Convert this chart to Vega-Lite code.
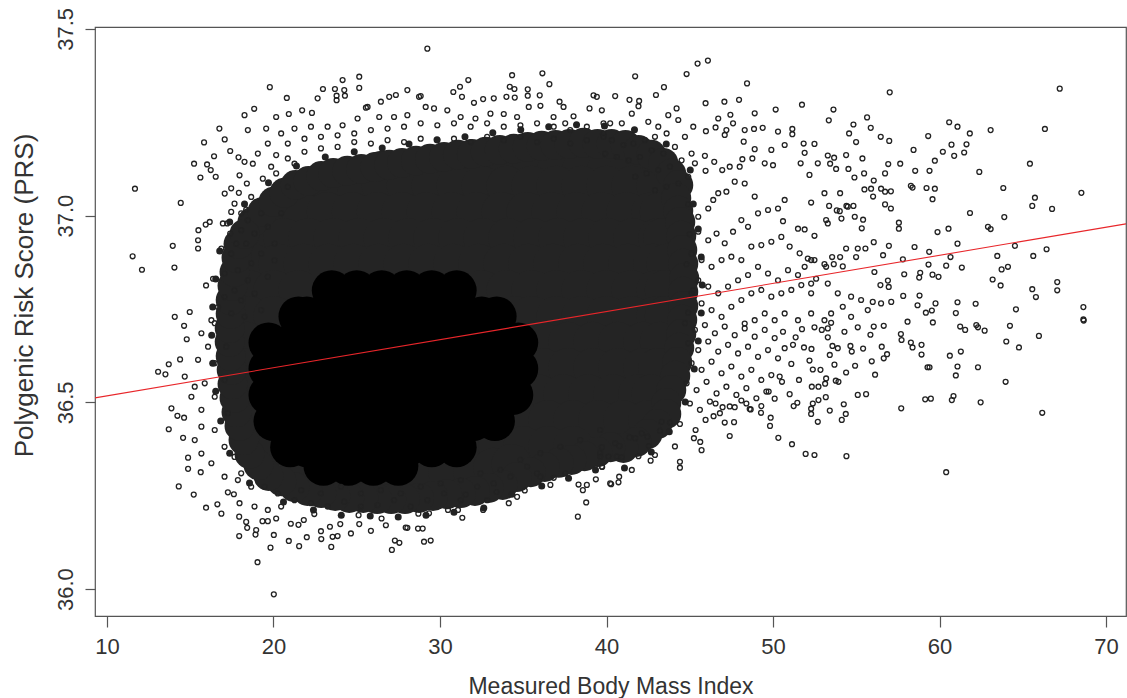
{
"$schema": "https://vega.github.io/schema/vega-lite/v6.json",
"width": 1031, "height": 589,
"autosize": {"type": "none"},
"padding": {"left": 95, "top": 27, "right": 1, "bottom": 82},
"background": "white",
"config": {"view": {"stroke": "#555", "strokeWidth": 1.2}},
"datasets": {
"core": [
{"bmi":23.5,"prs":36.80},{"bmi":25,"prs":36.80},{"bmi":26.5,"prs":36.80},{"bmi":28,"prs":36.80},{"bmi":29.5,"prs":36.80},{"bmi":31,"prs":36.80},
{"bmi":21.5,"prs":36.73},{"bmi":22,"prs":36.73},{"bmi":23.5,"prs":36.73},{"bmi":25,"prs":36.73},{"bmi":26.5,"prs":36.73},{"bmi":28,"prs":36.73},{"bmi":29.5,"prs":36.73},{"bmi":31,"prs":36.73},{"bmi":32.5,"prs":36.73},{"bmi":33.4,"prs":36.73},
{"bmi":19.7,"prs":36.66},{"bmi":21.2,"prs":36.66},{"bmi":22.7,"prs":36.66},{"bmi":24.2,"prs":36.66},{"bmi":25.7,"prs":36.66},{"bmi":27.2,"prs":36.66},{"bmi":28.7,"prs":36.66},{"bmi":30.2,"prs":36.66},{"bmi":31.7,"prs":36.66},{"bmi":33.2,"prs":36.66},{"bmi":34.7,"prs":36.66},
{"bmi":19.7,"prs":36.59},{"bmi":21.2,"prs":36.59},{"bmi":22.7,"prs":36.59},{"bmi":24.2,"prs":36.59},{"bmi":25.7,"prs":36.59},{"bmi":27.2,"prs":36.59},{"bmi":28.7,"prs":36.59},{"bmi":30.2,"prs":36.59},{"bmi":31.7,"prs":36.59},{"bmi":33.2,"prs":36.59},{"bmi":34.7,"prs":36.59},
{"bmi":19.7,"prs":36.52},{"bmi":21.2,"prs":36.52},{"bmi":22.7,"prs":36.52},{"bmi":24.2,"prs":36.52},{"bmi":25.7,"prs":36.52},{"bmi":27.2,"prs":36.52},{"bmi":28.7,"prs":36.52},{"bmi":30.2,"prs":36.52},{"bmi":31.7,"prs":36.52},{"bmi":33.2,"prs":36.52},{"bmi":34.4,"prs":36.52},
{"bmi":20,"prs":36.45},{"bmi":21.5,"prs":36.45},{"bmi":23,"prs":36.45},{"bmi":24.5,"prs":36.45},{"bmi":26,"prs":36.45},{"bmi":27.5,"prs":36.45},{"bmi":29,"prs":36.45},{"bmi":30.5,"prs":36.45},{"bmi":32,"prs":36.45},{"bmi":33.3,"prs":36.45},
{"bmi":21,"prs":36.38},{"bmi":22,"prs":36.38},{"bmi":23.5,"prs":36.38},{"bmi":25,"prs":36.38},{"bmi":26.5,"prs":36.38},{"bmi":28,"prs":36.38},{"bmi":29.5,"prs":36.38},{"bmi":31,"prs":36.38},
{"bmi":23,"prs":36.33},{"bmi":24.5,"prs":36.33},{"bmi":26,"prs":36.33},{"bmi":27.5,"prs":36.33}
],
"dense": [
{"bmi":26.5,"prs":37.12},{"bmi":28,"prs":37.12},{"bmi":29.5,"prs":37.12},{"bmi":31,"prs":37.12},{"bmi":32.5,"prs":37.12},{"bmi":34,"prs":37.12},{"bmi":35.5,"prs":37.12},{"bmi":37,"prs":37.12},{"bmi":38.5,"prs":37.12},{"bmi":40,"prs":37.12},{"bmi":41.3,"prs":37.12},
{"bmi":22,"prs":37.06},
{"bmi":23.5,"prs":37.08},{"bmi":25,"prs":37.08},{"bmi":26.5,"prs":37.08},{"bmi":28,"prs":37.08},{"bmi":29.5,"prs":37.08},{"bmi":31,"prs":37.08},{"bmi":32.5,"prs":37.08},{"bmi":34,"prs":37.08},{"bmi":35.5,"prs":37.08},{"bmi":37,"prs":37.08},{"bmi":38.5,"prs":37.08},{"bmi":40,"prs":37.08},{"bmi":41.5,"prs":37.08},{"bmi":43,"prs":37.08},
{"bmi":20.2,"prs":37.01},{"bmi":21.7,"prs":37.01},{"bmi":23.2,"prs":37.01},{"bmi":24.7,"prs":37.01},{"bmi":26.2,"prs":37.01},{"bmi":27.7,"prs":37.01},{"bmi":29.2,"prs":37.01},{"bmi":30.7,"prs":37.01},{"bmi":32.2,"prs":37.01},{"bmi":33.7,"prs":37.01},{"bmi":35.2,"prs":37.01},{"bmi":36.7,"prs":37.01},{"bmi":38.2,"prs":37.01},{"bmi":39.7,"prs":37.01},{"bmi":41.2,"prs":37.01},{"bmi":42.7,"prs":37.01},{"bmi":43.2,"prs":37.01},
{"bmi":19.1,"prs":36.94},{"bmi":20.6,"prs":36.94},{"bmi":22.1,"prs":36.94},{"bmi":23.6,"prs":36.94},{"bmi":25.1,"prs":36.94},{"bmi":26.6,"prs":36.94},{"bmi":28.1,"prs":36.94},{"bmi":29.6,"prs":36.94},{"bmi":31.1,"prs":36.94},{"bmi":32.6,"prs":36.94},{"bmi":34.1,"prs":36.94},{"bmi":35.6,"prs":36.94},{"bmi":37.1,"prs":36.94},{"bmi":38.6,"prs":36.94},{"bmi":40.1,"prs":36.94},{"bmi":41.6,"prs":36.94},{"bmi":43.1,"prs":36.94},{"bmi":43.4,"prs":36.94},
{"bmi":18.8,"prs":36.871},{"bmi":20.3,"prs":36.871},{"bmi":21.8,"prs":36.871},{"bmi":23.3,"prs":36.871},{"bmi":24.8,"prs":36.871},{"bmi":26.3,"prs":36.871},{"bmi":27.8,"prs":36.871},{"bmi":29.3,"prs":36.871},{"bmi":30.8,"prs":36.871},{"bmi":32.3,"prs":36.871},{"bmi":33.8,"prs":36.871},{"bmi":35.3,"prs":36.871},{"bmi":36.8,"prs":36.871},{"bmi":38.3,"prs":36.871},{"bmi":39.8,"prs":36.871},{"bmi":41.3,"prs":36.871},{"bmi":42.8,"prs":36.871},{"bmi":43.6,"prs":36.871},
{"bmi":18.5,"prs":36.801},{"bmi":20,"prs":36.801},{"bmi":21.5,"prs":36.801},{"bmi":32.5,"prs":36.801},{"bmi":34,"prs":36.801},{"bmi":35.5,"prs":36.801},{"bmi":37,"prs":36.801},{"bmi":38.5,"prs":36.801},{"bmi":40,"prs":36.801},{"bmi":41.5,"prs":36.801},{"bmi":43,"prs":36.801},{"bmi":43.5,"prs":36.801},
{"bmi":18.5,"prs":36.731},{"bmi":20,"prs":36.731},{"bmi":34.5,"prs":36.731},{"bmi":35.5,"prs":36.731},{"bmi":37,"prs":36.731},{"bmi":38.5,"prs":36.731},{"bmi":40,"prs":36.731},{"bmi":41.5,"prs":36.731},{"bmi":43,"prs":36.731},{"bmi":43.5,"prs":36.731},
{"bmi":18.4,"prs":36.662},{"bmi":36.2,"prs":36.662},{"bmi":37.7,"prs":36.662},{"bmi":39.2,"prs":36.662},{"bmi":40.7,"prs":36.662},{"bmi":42.2,"prs":36.662},{"bmi":43.2,"prs":36.662},
{"bmi":18.5,"prs":36.592},{"bmi":36.2,"prs":36.592},{"bmi":37.7,"prs":36.592},{"bmi":39.2,"prs":36.592},{"bmi":40.7,"prs":36.592},{"bmi":42.2,"prs":36.592},{"bmi":43.1,"prs":36.592},
{"bmi":18.6,"prs":36.522},{"bmi":35.9,"prs":36.522},{"bmi":37.4,"prs":36.522},{"bmi":38.9,"prs":36.522},{"bmi":40.4,"prs":36.522},{"bmi":41.9,"prs":36.522},{"bmi":42.7,"prs":36.522},
{"bmi":18.9,"prs":36.453},{"bmi":34.8,"prs":36.453},{"bmi":36.5,"prs":36.453},{"bmi":38,"prs":36.453},{"bmi":39.5,"prs":36.453},{"bmi":41,"prs":36.453},{"bmi":42.5,"prs":36.453},
{"bmi":19.3,"prs":36.383},{"bmi":20.3,"prs":36.383},{"bmi":32.3,"prs":36.383},{"bmi":33.5,"prs":36.383},{"bmi":35,"prs":36.383},{"bmi":36.5,"prs":36.383},{"bmi":38,"prs":36.383},
{"bmi":21.5,"prs":36.313},{"bmi":23,"prs":36.313},{"bmi":24.5,"prs":36.313},{"bmi":26,"prs":36.313},{"bmi":27.5,"prs":36.313},{"bmi":29,"prs":36.313},{"bmi":30.5,"prs":36.313},{"bmi":32,"prs":36.313},{"bmi":33.2,"prs":36.325},{"bmi":34.3,"prs":36.335}
],
"edge": [
{"bmi":18.74,"prs":36.983},{"bmi":19.34,"prs":37.010},{"bmi":20.00,"prs":37.037},{"bmi":20.66,"prs":37.061},{"bmi":21.32,"prs":37.082},{"bmi":22.10,"prs":37.093},{"bmi":22.87,"prs":37.106},{"bmi":23.59,"prs":37.114},{"bmi":24.43,"prs":37.120},{"bmi":25.27,"prs":37.125},{"bmi":26.11,"prs":37.130},{"bmi":26.95,"prs":37.136},{"bmi":27.72,"prs":37.141},{"bmi":28.56,"prs":37.147},{"bmi":29.40,"prs":37.152},{"bmi":30.24,"prs":37.157},{"bmi":31.08,"prs":37.163},{"bmi":31.92,"prs":37.165},{"bmi":32.75,"prs":37.171},{"bmi":33.59,"prs":37.176},{"bmi":34.43,"prs":37.179},{"bmi":35.27,"prs":37.184},{"bmi":36.11,"prs":37.187},{"bmi":36.95,"prs":37.189},{"bmi":37.78,"prs":37.192},{"bmi":38.62,"prs":37.195},{"bmi":39.46,"prs":37.192},{"bmi":40.30,"prs":37.192},{"bmi":41.14,"prs":37.189},{"bmi":41.92,"prs":37.176},{"bmi":42.69,"prs":37.163},{"bmi":43.41,"prs":37.141},{"bmi":43.89,"prs":37.112},{"bmi":44.31,"prs":37.082},
{"bmi":44.19,"prs":37.047},{"bmi":44.31,"prs":37.013},{"bmi":44.43,"prs":36.983},{"bmi":44.49,"prs":36.946},{"bmi":44.55,"prs":36.908},{"bmi":44.61,"prs":36.871},{"bmi":44.67,"prs":36.833},{"bmi":44.61,"prs":36.796},{"bmi":44.61,"prs":36.758},{"bmi":44.55,"prs":36.721},{"bmi":44.49,"prs":36.683},{"bmi":44.37,"prs":36.646},{"bmi":44.25,"prs":36.608},{"bmi":44.13,"prs":36.571},{"bmi":43.89,"prs":36.533},{"bmi":43.59,"prs":36.498},
{"bmi":43.59,"prs":36.469},{"bmi":43.05,"prs":36.442},{"bmi":42.46,"prs":36.415},{"bmi":41.80,"prs":36.394},{"bmi":41.02,"prs":36.378},{"bmi":40.24,"prs":36.380},{"bmi":39.46,"prs":36.367},{"bmi":38.68,"prs":36.356},{"bmi":37.90,"prs":36.346},{"bmi":37.13,"prs":36.338},{"bmi":36.29,"prs":36.327},{"bmi":35.45,"prs":36.313},{"bmi":34.61,"prs":36.300},{"bmi":33.77,"prs":36.279},{"bmi":32.93,"prs":36.271},{"bmi":32.10,"prs":36.263},{"bmi":31.26,"prs":36.257},{"bmi":30.42,"prs":36.254},{"bmi":29.58,"prs":36.249},{"bmi":28.74,"prs":36.244},{"bmi":27.90,"prs":36.241},{"bmi":27.07,"prs":36.241},{"bmi":26.23,"prs":36.241},{"bmi":25.39,"prs":36.244},{"bmi":24.55,"prs":36.244},{"bmi":23.71,"prs":36.249},{"bmi":22.87,"prs":36.257},{"bmi":22.04,"prs":36.263},{"bmi":21.26,"prs":36.273},{"bmi":20.48,"prs":36.289},{"bmi":19.70,"prs":36.303},{"bmi":19.10,"prs":36.332},{"bmi":18.56,"prs":36.362},
{"bmi":18.20,"prs":36.399},{"bmi":17.96,"prs":36.437},{"bmi":17.78,"prs":36.474},{"bmi":17.66,"prs":36.512},{"bmi":17.54,"prs":36.549},{"bmi":17.49,"prs":36.587},{"bmi":17.43,"prs":36.624},{"bmi":17.37,"prs":36.662},{"bmi":17.37,"prs":36.699},{"bmi":17.43,"prs":36.737},{"bmi":17.43,"prs":36.774},{"bmi":17.54,"prs":36.812},{"bmi":17.66,"prs":36.849},{"bmi":17.78,"prs":36.887},{"bmi":17.90,"prs":36.924},{"bmi":18.26,"prs":36.951}
],
"fuzz": [
{"bmi":18.26,"prs":37.031},{"bmi":19.70,"prs":37.088},{"bmi":21.38,"prs":37.133},{"bmi":23.11,"prs":37.157},{"bmi":24.85,"prs":37.171},{"bmi":26.53,"prs":37.181},{"bmi":28.14,"prs":37.192},{"bmi":29.82,"prs":37.203},{"bmi":31.50,"prs":37.211},{"bmi":33.17,"prs":37.222},{"bmi":34.85,"prs":37.230},{"bmi":36.53,"prs":37.238},{"bmi":38.20,"prs":37.243},{"bmi":39.88,"prs":37.240},{"bmi":41.68,"prs":37.230},{"bmi":43.59,"prs":37.192},{"bmi":45.03,"prs":37.122},
{"bmi":45.21,"prs":37.031},{"bmi":45.51,"prs":36.964},{"bmi":45.69,"prs":36.889},{"bmi":45.75,"prs":36.814},{"bmi":45.69,"prs":36.739},{"bmi":45.51,"prs":36.664},{"bmi":45.27,"prs":36.589},{"bmi":44.73,"prs":36.501},{"bmi":43.77,"prs":36.421},{"bmi":42.69,"prs":36.367},{"bmi":41.08,"prs":36.324},
{"bmi":39.34,"prs":36.319},{"bmi":37.72,"prs":36.297},{"bmi":36.11,"prs":36.276},{"bmi":34.31,"prs":36.254},{"bmi":32.63,"prs":36.217},{"bmi":30.84,"prs":36.206},{"bmi":29.16,"prs":36.198},{"bmi":27.49,"prs":36.193},{"bmi":25.81,"prs":36.196},{"bmi":24.07,"prs":36.198},{"bmi":22.40,"prs":36.212},{"bmi":20.60,"prs":36.233},{"bmi":18.56,"prs":36.284},
{"bmi":17.37,"prs":36.364},{"bmi":16.83,"prs":36.450},{"bmi":16.53,"prs":36.530},{"bmi":16.35,"prs":36.605},{"bmi":16.29,"prs":36.680},{"bmi":16.35,"prs":36.755},{"bmi":16.53,"prs":36.830},{"bmi":16.77,"prs":36.905},{"bmi":17.37,"prs":36.983}
],
"pts": [
{"bmi":57.01,"prs":37.330},{"bmi":67.22,"prs":37.340},{"bmi":66.33,"prs":37.232},{"bmi":63.07,"prs":37.229},{"bmi":60.58,"prs":37.250},{"bmi":61.08,"prs":37.238},{"bmi":61.82,"prs":37.220},{"bmi":59.32,"prs":37.213},{"bmi":61.62,"prs":37.191},{"bmi":60.72,"prs":37.190},{"bmi":61.48,"prs":37.169},{"bmi":60.88,"prs":37.160},{"bmi":60.20,"prs":37.171},{"bmi":59.72,"prs":37.147},{"bmi":58.44,"prs":37.176},{"bmi":62.39,"prs":37.117},{"bmi":65.43,"prs":37.139},{"bmi":63.83,"prs":37.074},{"bmi":65.73,"prs":37.048},{"bmi":65.57,"prs":37.026},{"bmi":66.76,"prs":37.018},{"bmi":68.52,"prs":37.061},{"bmi":61.83,"prs":37.007},{"bmi":63.89,"prs":36.996},{"bmi":62.91,"prs":36.970},{"bmi":63.07,"prs":36.964},{"bmi":60.54,"prs":36.965},{"bmi":59.88,"prs":36.956},{"bmi":61.08,"prs":36.925},{"bmi":64.53,"prs":36.919},{"bmi":66.43,"prs":36.910},{"bmi":65.63,"prs":36.892},{"bmi":63.47,"prs":36.892},{"bmi":60.66,"prs":36.889},{"bmi":59.38,"prs":36.903},{"bmi":59.34,"prs":36.869},{"bmi":58.50,"prs":36.916},{"bmi":60.40,"prs":36.866},{"bmi":61.34,"prs":36.861},{"bmi":63.19,"prs":36.829},{"bmi":63.73,"prs":36.856},{"bmi":64.11,"prs":36.863},{"bmi":63.67,"prs":36.813},{"bmi":65.57,"prs":36.803},{"bmi":65.79,"prs":36.782},{"bmi":67.07,"prs":36.822},{"bmi":67.07,"prs":36.800},{"bmi":68.64,"prs":36.755},{"bmi":68.64,"prs":36.722},{"bmi":64.59,"prs":36.749},{"bmi":62.17,"prs":36.764},{"bmi":61.08,"prs":36.768},{"bmi":60.98,"prs":36.739},{"bmi":59.76,"prs":36.765},{"bmi":59.54,"prs":36.746},{"bmi":59.18,"prs":36.740},{"bmi":58.68,"prs":36.760},{"bmi":58.80,"prs":36.786},{"bmi":59.58,"prs":36.842},{"bmi":59.94,"prs":36.836},{"bmi":58.84,"prs":36.847},{"bmi":58.78,"prs":36.834},{"bmi":57.88,"prs":36.843},{"bmi":57.82,"prs":36.785},{"bmi":57.10,"prs":36.769},{"bmi":56.95,"prs":36.809},{"bmi":56.45,"prs":36.814},{"bmi":56.49,"prs":36.765},{"bmi":55.99,"prs":36.769},{"bmi":56.90,"prs":36.826},{"bmi":56.96,"prs":36.919},{"bmi":56.61,"prs":36.894},{"bmi":57.80,"prs":36.883},{"bmi":56.05,"prs":36.929},{"bmi":56.09,"prs":36.849},{"bmi":55.55,"prs":36.912},{"bmi":55.09,"prs":36.912},{"bmi":54.99,"prs":36.889},{"bmi":54.39,"prs":36.912},{"bmi":54.19,"prs":36.864},{"bmi":53.55,"prs":36.889},{"bmi":53.65,"prs":36.870},{"bmi":54.03,"prs":36.889},{"bmi":53.09,"prs":36.870},{"bmi":53.19,"prs":36.863},{"bmi":52.49,"prs":36.881},{"bmi":52.29,"prs":36.881},{"bmi":52.09,"prs":36.885},{"bmi":56.98,"prs":37.200},{"bmi":57.08,"prs":37.065},{"bmi":56.73,"prs":37.064},{"bmi":57.08,"prs":37.019},{"bmi":56.73,"prs":37.030},{"bmi":57.56,"prs":36.981},{"bmi":57.56,"prs":36.965},{"bmi":57.64,"prs":37.139},{"bmi":56.92,"prs":37.138},{"bmi":56.73,"prs":37.113},{"bmi":58.54,"prs":37.120},{"bmi":59.40,"prs":37.120},{"bmi":58.28,"prs":37.080},{"bmi":58.38,"prs":37.075},{"bmi":59.22,"prs":37.074},{"bmi":59.72,"prs":37.072},{"bmi":59.58,"prs":37.044},{"bmi":56.05,"prs":37.094},{"bmi":56.49,"prs":37.072},{"bmi":55.89,"prs":37.072},{"bmi":56.01,"prs":37.051},{"bmi":55.49,"prs":37.070},{"bmi":55.37,"prs":37.153},{"bmi":55.47,"prs":37.113},{"bmi":54.89,"prs":37.102},{"bmi":54.53,"prs":37.125},{"bmi":54.39,"prs":37.162},{"bmi":53.79,"prs":37.125},{"bmi":53.43,"prs":37.139},{"bmi":53.29,"prs":37.161},{"bmi":53.67,"prs":37.155},{"bmi":53.37,"prs":37.026},{"bmi":53.83,"prs":37.014},{"bmi":54.01,"prs":37.012},{"bmi":54.41,"prs":37.026},{"bmi":54.83,"prs":37.026},{"bmi":54.91,"prs":36.997},{"bmi":54.11,"prs":36.992},{"bmi":55.33,"prs":36.966},{"bmi":55.41,"prs":36.989},{"bmi":54.83,"prs":37.244},{"bmi":54.57,"prs":37.220},{"bmi":54.99,"prs":37.197},{"bmi":55.65,"prs":37.263},{"bmi":55.87,"prs":37.235},{"bmi":56.47,"prs":37.211},{"bmi":53.63,"prs":37.284},{"bmi":53.35,"prs":37.255},{"bmi":51.74,"prs":37.297},{"bmi":50.16,"prs":37.284},{"bmi":48.90,"prs":37.274},{"bmi":48.44,"prs":37.354},{"bmi":47.96,"prs":37.310},{"bmi":47.08,"prs":37.305},{"bmi":45.95,"prs":37.301},{"bmi":45.47,"prs":37.407},{"bmi":46.09,"prs":37.415},{"bmi":44.81,"prs":37.379},{"bmi":43.45,"prs":37.344},{"bmi":42.97,"prs":37.323},{"bmi":41.72,"prs":37.373},{"bmi":40.52,"prs":37.320},{"bmi":41.38,"prs":37.310},{"bmi":41.96,"prs":37.307},{"bmi":41.92,"prs":37.293},
{"bmi":45.97,"prs":37.226},{"bmi":46.71,"prs":37.260},{"bmi":47.44,"prs":37.270},{"bmi":47.60,"prs":37.247},{"bmi":47.20,"prs":37.229},{"bmi":47.10,"prs":37.216},{"bmi":46.55,"prs":37.236},{"bmi":48.30,"prs":37.229},{"bmi":48.86,"prs":37.232},{"bmi":49.38,"prs":37.235},{"bmi":50.30,"prs":37.225},{"bmi":51.16,"prs":37.232},{"bmi":51.16,"prs":37.218},{"bmi":50.70,"prs":37.189},{"bmi":49.90,"prs":37.176},{"bmi":49.50,"prs":37.140},{"bmi":50.00,"prs":37.135},{"bmi":48.90,"prs":37.178},{"bmi":48.24,"prs":37.198},{"bmi":48.16,"prs":37.151},{"bmi":48.76,"prs":37.153},{"bmi":48.00,"prs":37.131},{"bmi":47.40,"prs":37.131},{"bmi":46.95,"prs":37.122},{"bmi":46.47,"prs":37.144},{"bmi":45.95,"prs":37.120},{"bmi":45.91,"prs":37.160},{"bmi":45.31,"prs":37.140},{"bmi":51.66,"prs":37.140},{"bmi":51.90,"prs":37.168},{"bmi":52.49,"prs":37.192},{"bmi":51.84,"prs":37.193},{"bmi":52.19,"prs":37.109},{"bmi":52.69,"prs":37.140},{"bmi":52.29,"prs":37.035},{"bmi":53.09,"prs":37.060},{"bmi":54.03,"prs":37.060},{"bmi":54.49,"prs":37.024},{"bmi":53.29,"prs":36.979},{"bmi":51.90,"prs":36.963},{"bmi":51.50,"prs":36.965},{"bmi":52.49,"prs":36.946},{"bmi":53.19,"prs":36.988},{"bmi":50.30,"prs":37.019},{"bmi":50.70,"prs":37.042},{"bmi":50.60,"prs":36.985},{"bmi":49.70,"prs":37.015},{"bmi":49.10,"prs":37.006},{"bmi":48.90,"prs":37.051},{"bmi":48.30,"prs":37.086},{"bmi":47.70,"prs":37.091},{"bmi":47.20,"prs":37.064},{"bmi":46.71,"prs":37.060},{"bmi":46.41,"prs":37.042},{"bmi":46.11,"prs":37.019},{"bmi":45.51,"prs":36.997},{"bmi":48.50,"prs":36.970},{"bmi":48.10,"prs":36.988},{"bmi":47.60,"prs":36.957},{"bmi":47.10,"prs":36.926},{"bmi":46.61,"prs":36.952},{"bmi":46.11,"prs":36.934},{"bmi":45.51,"prs":36.957},{"bmi":45.11,"prs":36.898},{"bmi":45.71,"prs":36.881},{"bmi":46.31,"prs":36.863},{"bmi":46.91,"prs":36.881},{"bmi":47.50,"prs":36.890},{"bmi":48.10,"prs":36.881},{"bmi":48.70,"prs":36.917},{"bmi":49.30,"prs":36.921},{"bmi":49.90,"prs":36.930},{"bmi":50.50,"prs":36.943},{"bmi":51.00,"prs":36.917},{"bmi":51.60,"prs":36.899},{"bmi":51.90,"prs":36.863},{"bmi":51.50,"prs":36.841},{"bmi":50.90,"prs":36.854},{"bmi":50.30,"prs":36.827},{"bmi":49.70,"prs":36.845},{"bmi":49.10,"prs":36.863},{"bmi":48.50,"prs":36.841},{"bmi":47.90,"prs":36.827},{"bmi":47.30,"prs":36.810},{"bmi":46.71,"prs":36.792},{"bmi":46.11,"prs":36.810},{"bmi":45.51,"prs":36.827},{"bmi":45.11,"prs":36.792},{"bmi":45.71,"prs":36.765},{"bmi":46.31,"prs":36.747},{"bmi":46.91,"prs":36.729},{"bmi":47.50,"prs":36.756},{"bmi":48.10,"prs":36.774},{"bmi":48.70,"prs":36.792},{"bmi":49.30,"prs":36.801},{"bmi":49.90,"prs":36.783},{"bmi":50.50,"prs":36.792},{"bmi":51.10,"prs":36.801},{"bmi":51.70,"prs":36.814},{"bmi":52.29,"prs":36.792},{"bmi":50.70,"prs":36.738},{"bmi":50.10,"prs":36.720},{"bmi":49.50,"prs":36.738},{"bmi":48.90,"prs":36.720},{"bmi":48.30,"prs":36.711},{"bmi":51.50,"prs":36.720},{"bmi":52.29,"prs":36.738},{"bmi":53.09,"prs":36.720},{"bmi":53.49,"prs":36.738},{"bmi":53.89,"prs":36.792},{"bmi":54.69,"prs":36.783},{"bmi":55.29,"prs":36.774},{"bmi":55.69,"prs":36.747},{"bmi":54.69,"prs":36.729},{"bmi":54.19,"prs":36.756},{"bmi":53.29,"prs":36.818},{"bmi":52.59,"prs":36.831},{"bmi":52.29,"prs":36.818},
{"bmi":39.72,"prs":37.282},{"bmi":40.22,"prs":37.247},{"bmi":40.92,"prs":37.247},{"bmi":41.52,"prs":37.273},{"bmi":42.51,"prs":37.251},{"bmi":43.11,"prs":37.238},{"bmi":43.71,"prs":37.269},{"bmi":44.21,"prs":37.287},{"bmi":44.31,"prs":37.256},{"bmi":43.61,"prs":37.220},{"bmi":42.91,"prs":37.211},{"bmi":42.31,"prs":37.202},{"bmi":41.62,"prs":37.193},{"bmi":41.02,"prs":37.189},{"bmi":40.32,"prs":37.202},{"bmi":39.82,"prs":37.220},{"bmi":44.71,"prs":37.211},{"bmi":44.11,"prs":37.184},{"bmi":43.41,"prs":37.166},{"bmi":42.71,"prs":37.175},{"bmi":42.01,"prs":37.157},{"bmi":41.32,"prs":37.148},{"bmi":40.62,"prs":37.157},{"bmi":39.92,"prs":37.166},{"bmi":45.11,"prs":37.166},{"bmi":44.51,"prs":37.148},{"bmi":43.81,"prs":37.131},{"bmi":43.11,"prs":37.122},{"bmi":42.41,"prs":37.113},{"bmi":41.72,"prs":37.104},{"bmi":44.91,"prs":37.104},{"bmi":44.31,"prs":37.086},{"bmi":43.61,"prs":37.077},{"bmi":42.91,"prs":37.068},{"bmi":45.21,"prs":37.238},{"bmi":44.9,"prs":37.03},{"bmi":45.0,"prs":36.95},{"bmi":44.8,"prs":36.87},{"bmi":45.2,"prs":36.80},{"bmi":44.9,"prs":36.74},
{"bmi":58.08,"prs":36.716},{"bmi":59.60,"prs":36.714},{"bmi":61.24,"prs":36.703},{"bmi":61.54,"prs":36.694},{"bmi":62.21,"prs":36.707},{"bmi":62.31,"prs":36.701},{"bmi":62.71,"prs":36.692},{"bmi":64.23,"prs":36.705},{"bmi":65.97,"prs":36.678},{"bmi":64.01,"prs":36.663},{"bmi":64.77,"prs":36.647},{"bmi":63.97,"prs":36.555},{"bmi":62.31,"prs":36.594},{"bmi":61.08,"prs":36.596},{"bmi":60.98,"prs":36.572},{"bmi":60.62,"prs":36.625},{"bmi":61.28,"prs":36.636},{"bmi":62.47,"prs":36.500},{"bmi":60.74,"prs":36.506},{"bmi":60.84,"prs":36.517},{"bmi":59.48,"prs":36.510},{"bmi":59.14,"prs":36.508},{"bmi":59.28,"prs":36.594},{"bmi":59.40,"prs":36.594},{"bmi":58.92,"prs":36.628},{"bmi":58.92,"prs":36.654},{"bmi":58.38,"prs":36.647},{"bmi":58.28,"prs":36.660},{"bmi":57.72,"prs":36.667},{"bmi":57.68,"prs":36.683},{"bmi":57.70,"prs":36.484},{"bmi":60.40,"prs":36.313},{"bmi":66.17,"prs":36.472},{"bmi":68.66,"prs":36.719},{"bmi":56.65,"prs":36.705},{"bmi":56.05,"prs":36.703},{"bmi":55.85,"prs":36.681},{"bmi":55.09,"prs":36.701},{"bmi":56.53,"prs":36.649},{"bmi":56.65,"prs":36.618},{"bmi":56.85,"prs":36.629},{"bmi":56.13,"prs":36.574},{"bmi":55.93,"prs":36.610},{"bmi":55.41,"prs":36.644},{"bmi":54.93,"prs":36.598},{"bmi":54.73,"prs":36.636},{"bmi":54.65,"prs":36.651},{"bmi":54.39,"prs":36.580},{"bmi":54.29,"prs":36.689},{"bmi":53.93,"prs":36.555},{"bmi":53.77,"prs":36.558},{"bmi":53.69,"prs":36.601},{"bmi":53.29,"prs":36.674},{"bmi":53.41,"prs":36.627},{"bmi":53.89,"prs":36.645},{"bmi":53.57,"prs":36.651},{"bmi":53.19,"prs":36.564},{"bmi":53.17,"prs":36.514},{"bmi":53.41,"prs":36.478},{"bmi":54.25,"prs":36.495},{"bmi":54.37,"prs":36.469},{"bmi":54.13,"prs":36.453},{"bmi":52.69,"prs":36.448},{"bmi":52.29,"prs":36.469},{"bmi":52.29,"prs":36.483},{"bmi":52.39,"prs":36.497},{"bmi":52.73,"prs":36.506},{"bmi":53.13,"prs":36.550},{"bmi":52.73,"prs":36.542},{"bmi":52.33,"prs":36.542},{"bmi":55.59,"prs":36.522},{"bmi":55.09,"prs":36.520},{"bmi":54.41,"prs":36.356},{"bmi":52.49,"prs":36.359},{"bmi":51.96,"prs":36.362},{"bmi":51.14,"prs":36.388},{"bmi":50.32,"prs":36.405},{"bmi":49.82,"prs":36.437},{"bmi":49.86,"prs":36.459},{"bmi":49.28,"prs":36.472},{"bmi":48.60,"prs":36.482},{"bmi":48.10,"prs":36.505},{"bmi":47.66,"prs":36.447},{"bmi":47.10,"prs":36.446},{"bmi":47.40,"prs":36.410},{"bmi":45.71,"prs":36.372},{"bmi":45.63,"prs":36.394},{"bmi":45.25,"prs":36.404},{"bmi":44.41,"prs":36.341},{"bmi":44.41,"prs":36.325},{"bmi":44.11,"prs":36.382},{"bmi":42.91,"prs":36.359},{"bmi":42.65,"prs":36.344},{"bmi":42.55,"prs":36.383},{"bmi":41.92,"prs":36.356},{"bmi":41.52,"prs":36.319},{"bmi":40.72,"prs":36.286},{"bmi":40.76,"prs":36.301},{"bmi":40.28,"prs":36.281},{"bmi":39.74,"prs":36.327},{"bmi":39.62,"prs":36.355},{"bmi":40.12,"prs":36.355},{"bmi":40.62,"prs":36.355},{"bmi":40.92,"prs":36.353},{"bmi":39.72,"prs":36.380},{"bmi":40.52,"prs":36.390},{"bmi":40.78,"prs":36.383},{"bmi":41.38,"prs":36.406},{"bmi":41.72,"prs":36.404},{"bmi":42.11,"prs":36.417},{"bmi":42.45,"prs":36.408},{"bmi":43.21,"prs":36.424},{"bmi":43.31,"prs":36.448},{"bmi":43.81,"prs":36.446},{"bmi":44.41,"prs":36.442},{"bmi":45.35,"prs":36.426},{"bmi":45.95,"prs":36.453},{"bmi":46.43,"prs":36.463},{"bmi":46.55,"prs":36.497},{"bmi":46.97,"prs":36.487},{"bmi":47.70,"prs":36.487},{"bmi":48.40,"prs":36.497},{"bmi":48.66,"prs":36.481},{"bmi":49.30,"prs":36.490},{"bmi":49.74,"prs":36.529},{"bmi":50.10,"prs":36.510},{"bmi":51.00,"prs":36.522},{"bmi":51.46,"prs":36.499},{"bmi":51.24,"prs":36.490},{"bmi":50.54,"prs":36.555},{"bmi":50.40,"prs":36.569},{"bmi":51.10,"prs":36.603},{"bmi":51.56,"prs":36.560},{"bmi":52.19,"prs":36.612},{"bmi":52.39,"prs":36.588},{"bmi":52.85,"prs":36.587},{"bmi":52.31,"prs":36.643},{"bmi":51.86,"prs":36.647},{"bmi":51.20,"prs":36.654},{"bmi":50.70,"prs":36.645},{"bmi":51.36,"prs":36.674},{"bmi":51.74,"prs":36.696},{"bmi":52.49,"prs":36.701},{"bmi":52.93,"prs":36.694},{"bmi":53.29,"prs":36.698},{"bmi":53.49,"prs":36.713},
{"bmi":44.71,"prs":36.712},{"bmi":45.31,"prs":36.694},{"bmi":45.91,"prs":36.707},{"bmi":46.51,"prs":36.685},{"bmi":47.10,"prs":36.703},{"bmi":47.70,"prs":36.680},{"bmi":48.30,"prs":36.698},{"bmi":48.90,"prs":36.676},{"bmi":49.50,"prs":36.694},{"bmi":50.10,"prs":36.672},{"bmi":50.60,"prs":36.689},{"bmi":44.91,"prs":36.658},{"bmi":45.51,"prs":36.640},{"bmi":46.11,"prs":36.663},{"bmi":46.71,"prs":36.636},{"bmi":47.30,"prs":36.654},{"bmi":47.90,"prs":36.631},{"bmi":48.50,"prs":36.649},{"bmi":49.10,"prs":36.622},{"bmi":49.70,"prs":36.640},{"bmi":50.30,"prs":36.618},{"bmi":45.11,"prs":36.605},{"bmi":45.71,"prs":36.587},{"bmi":46.31,"prs":36.609},{"bmi":46.91,"prs":36.578},{"bmi":47.50,"prs":36.596},{"bmi":48.10,"prs":36.569},{"bmi":48.70,"prs":36.587},{"bmi":49.30,"prs":36.560},{"bmi":49.90,"prs":36.573},{"bmi":44.81,"prs":36.551},{"bmi":45.41,"prs":36.533},{"bmi":46.01,"prs":36.555},{"bmi":46.61,"prs":36.524},{"bmi":47.20,"prs":36.542},{"bmi":47.80,"prs":36.520},{"bmi":48.40,"prs":36.538},{"bmi":49.00,"prs":36.511},{"bmi":49.60,"prs":36.529},{"bmi":45.01,"prs":36.497},{"bmi":45.61,"prs":36.480},{"bmi":46.21,"prs":36.502},{"bmi":46.81,"prs":36.471},{"bmi":47.40,"prs":36.489},
{"bmi":29.24,"prs":37.447},{"bmi":19.78,"prs":37.344},{"bmi":20.80,"prs":37.315},{"bmi":18.26,"prs":37.269},{"bmi":18.84,"prs":37.286},{"bmi":16.75,"prs":37.233},{"bmi":15.83,"prs":37.196},{"bmi":17.07,"prs":37.204},{"bmi":15.23,"prs":37.139},{"bmi":16.43,"prs":37.159},{"bmi":16.01,"prs":37.137},{"bmi":16.23,"prs":37.122},{"bmi":16.53,"prs":37.104},{"bmi":15.61,"prs":37.102},{"bmi":11.68,"prs":37.072},{"bmi":14.43,"prs":37.034},{"bmi":11.54,"prs":36.891},{"bmi":12.10,"prs":36.855},{"bmi":13.95,"prs":36.919},{"bmi":14.05,"prs":36.861},{"bmi":14.07,"prs":36.729},{"bmi":14.97,"prs":36.742},{"bmi":15.49,"prs":36.961},{"bmi":15.93,"prs":36.976},{"bmi":15.47,"prs":36.934},{"bmi":15.47,"prs":36.912},{"bmi":16.17,"prs":36.983},{"bmi":16.96,"prs":36.979},{"bmi":17.22,"prs":36.979},{"bmi":17.40,"prs":36.952},{"bmi":16.87,"prs":36.912},{"bmi":16.37,"prs":36.831},{"bmi":15.95,"prs":36.813},{"bmi":17.06,"prs":36.845},{"bmi":17.46,"prs":36.898},{"bmi":17.76,"prs":36.925},{"bmi":18.06,"prs":37.006},{"bmi":17.46,"prs":37.010},{"bmi":17.92,"prs":37.061},{"bmi":17.46,"prs":37.073},{"bmi":18.36,"prs":37.016},{"bmi":18.66,"prs":37.050},{"bmi":18.40,"prs":37.086},{"bmi":17.96,"prs":37.108},{"bmi":18.26,"prs":37.144},{"bmi":17.40,"prs":37.173},{"bmi":17.90,"prs":37.156},{"bmi":18.46,"prs":37.229},{"bmi":19.56,"prs":37.233},{"bmi":20.16,"prs":37.264},{"bmi":20.92,"prs":37.272},{"bmi":21.72,"prs":37.282},{"bmi":22.31,"prs":37.275},{"bmi":22.97,"prs":37.339},{"bmi":23.69,"prs":37.339},{"bmi":24.15,"prs":37.363},{"bmi":25.15,"prs":37.372},{"bmi":25.15,"prs":37.342},{"bmi":24.25,"prs":37.336},{"bmi":23.79,"prs":37.321},{"bmi":24.29,"prs":37.321},{"bmi":22.65,"prs":37.314},{"bmi":23.79,"prs":37.309},{"bmi":25.55,"prs":37.289},{"bmi":26.45,"prs":37.305},{"bmi":26.95,"prs":37.318},{"bmi":27.35,"prs":37.323},{"bmi":28.04,"prs":37.336},{"bmi":28.84,"prs":37.320},{"bmi":30.80,"prs":37.331},{"bmi":31.20,"prs":37.345},{"bmi":31.70,"prs":37.363},{"bmi":31.32,"prs":37.318},{"bmi":32.04,"prs":37.302},{"bmi":32.59,"prs":37.312},{"bmi":33.23,"prs":37.314},{"bmi":34.33,"prs":37.376},{"bmi":34.19,"prs":37.345},{"bmi":34.47,"prs":37.339},{"bmi":35.27,"prs":37.338},{"bmi":36.15,"prs":37.381},{"bmi":36.57,"prs":37.352},{"bmi":35.99,"prs":37.322},{"bmi":35.27,"prs":37.321},{"bmi":33.99,"prs":37.318},{"bmi":34.49,"prs":37.316},{"bmi":37.18,"prs":37.305},{"bmi":37.42,"prs":37.291},{"bmi":39.22,"prs":37.322},{"bmi":39.42,"prs":37.318},{"bmi":38.98,"prs":37.287},{"bmi":38.02,"prs":37.266},{"bmi":37.52,"prs":37.247},{"bmi":36.82,"prs":37.264},{"bmi":36.03,"prs":37.294},{"bmi":35.33,"prs":37.291},{"bmi":34.63,"prs":37.264},{"bmi":33.83,"prs":37.272},{"bmi":33.03,"prs":37.273},{"bmi":32.13,"prs":37.260},{"bmi":31.24,"prs":37.264},{"bmi":30.44,"prs":37.282},{"bmi":29.64,"prs":37.287},{"bmi":29.14,"prs":37.291},{"bmi":28.74,"prs":37.318},{"bmi":28.04,"prs":37.269},{"bmi":27.24,"prs":37.264},{"bmi":26.35,"prs":37.264},{"bmi":25.65,"prs":37.291},{"bmi":25.05,"prs":37.260},{"bmi":24.15,"prs":37.242},{"bmi":23.25,"prs":37.238},{"bmi":22.25,"prs":37.238},{"bmi":21.26,"prs":37.233},{"bmi":20.46,"prs":37.220},{"bmi":19.66,"prs":37.193},{"bmi":19.06,"prs":37.166},{"bmi":18.76,"prs":37.139},{"bmi":20.16,"prs":37.162},{"bmi":20.86,"prs":37.193},{"bmi":21.86,"prs":37.206},{"bmi":22.85,"prs":37.211},{"bmi":23.85,"prs":37.215},{"bmi":24.85,"prs":37.220},{"bmi":25.85,"prs":37.229},{"bmi":26.85,"prs":37.233},{"bmi":27.84,"prs":37.238},{"bmi":28.84,"prs":37.247},{"bmi":29.84,"prs":37.242},{"bmi":30.84,"prs":37.247},{"bmi":31.84,"prs":37.238},{"bmi":32.83,"prs":37.247},{"bmi":33.83,"prs":37.238},{"bmi":34.83,"prs":37.242},{"bmi":35.83,"prs":37.247},{"bmi":36.83,"prs":37.238},{"bmi":37.82,"prs":37.229},{"bmi":38.82,"prs":37.238},{"bmi":39.82,"prs":37.247},{"bmi":39.82,"prs":37.211},{"bmi":38.82,"prs":37.202},{"bmi":37.82,"prs":37.193},{"bmi":36.83,"prs":37.206},{"bmi":35.83,"prs":37.197},{"bmi":34.83,"prs":37.211},{"bmi":33.83,"prs":37.202},{"bmi":32.83,"prs":37.211},{"bmi":31.84,"prs":37.197},{"bmi":30.84,"prs":37.206},{"bmi":29.84,"prs":37.202},{"bmi":28.84,"prs":37.206},{"bmi":27.84,"prs":37.197},{"bmi":26.85,"prs":37.202},{"bmi":25.85,"prs":37.193},{"bmi":24.85,"prs":37.197},{"bmi":23.85,"prs":37.184},{"bmi":22.85,"prs":37.180},{"bmi":21.86,"prs":37.171},{"bmi":20.86,"prs":37.153},{"bmi":19.86,"prs":37.131},{"bmi":19.36,"prs":37.099},{"bmi":20.16,"prs":37.113},{"bmi":21.26,"prs":37.139},{"bmi":17.07,"prs":37.059},{"bmi":17.66,"prs":37.032},{"bmi":18.46,"prs":36.988},{"bmi":19.26,"prs":37.006},{"bmi":18.86,"prs":36.952},{"bmi":19.66,"prs":36.970},{"bmi":18.06,"prs":36.961},{"bmi":18.36,"prs":36.925},{"bmi":19.26,"prs":36.898},{"bmi":18.66,"prs":36.872},{"bmi":17.86,"prs":36.854},{"bmi":18.46,"prs":36.827},{"bmi":17.66,"prs":36.800},{"bmi":17.06,"prs":36.782},{"bmi":18.06,"prs":36.773},{"bmi":18.86,"prs":36.791},{"bmi":17.46,"prs":36.738},{"bmi":16.67,"prs":36.755},{"bmi":16.27,"prs":36.720},{"bmi":18.26,"prs":36.729},{"bmi":19.26,"prs":36.747},{"bmi":19.66,"prs":36.836},{"bmi":20.06,"prs":36.880},{"bmi":20.06,"prs":36.925},{"bmi":20.46,"prs":37.006},{"bmi":20.86,"prs":37.077},
{"bmi":13.07,"prs":36.582},{"bmi":13.51,"prs":36.575},{"bmi":13.71,"prs":36.602},{"bmi":14.39,"prs":36.615},{"bmi":14.67,"prs":36.569},{"bmi":14.79,"prs":36.669},{"bmi":14.63,"prs":36.705},{"bmi":13.87,"prs":36.484},{"bmi":13.71,"prs":36.428},{"bmi":14.23,"prs":36.464},{"bmi":14.57,"prs":36.405},{"bmi":14.63,"prs":36.459},{"bmi":14.87,"prs":36.352},{"bmi":14.87,"prs":36.322},{"bmi":15.63,"prs":36.313},{"bmi":14.31,"prs":36.275},{"bmi":15.21,"prs":36.253},{"bmi":15.95,"prs":36.218},{"bmi":16.63,"prs":36.227},{"bmi":16.87,"prs":36.202},{"bmi":17.26,"prs":36.259},{"bmi":17.62,"prs":36.254},{"bmi":17.96,"prs":36.230},{"bmi":17.94,"prs":36.194},{"bmi":18.36,"prs":36.180},{"bmi":17.94,"prs":36.142},{"bmi":18.42,"prs":36.164},{"bmi":18.96,"prs":36.158},{"bmi":18.92,"prs":36.146},{"bmi":19.04,"prs":36.072},{"bmi":19.82,"prs":36.111},{"bmi":20.02,"prs":35.986},{"bmi":20.02,"prs":36.145},{"bmi":20.16,"prs":36.189},{"bmi":19.34,"prs":36.182},{"bmi":19.66,"prs":36.182},{"bmi":20.92,"prs":36.129},{"bmi":21.54,"prs":36.115},{"bmi":22.00,"prs":36.139},{"bmi":21.50,"prs":36.172},{"bmi":21.04,"prs":36.175},{"bmi":21.82,"prs":36.185},{"bmi":22.45,"prs":36.201},{"bmi":22.85,"prs":36.155},{"bmi":22.87,"prs":36.134},{"bmi":23.47,"prs":36.113},{"bmi":23.55,"prs":36.140},{"bmi":23.85,"prs":36.142},{"bmi":23.39,"prs":36.167},{"bmi":24.01,"prs":36.174},{"bmi":24.65,"prs":36.149},{"bmi":25.15,"prs":36.174},{"bmi":25.11,"prs":36.198},{"bmi":25.85,"prs":36.156},{"bmi":26.49,"prs":36.189},{"bmi":26.75,"prs":36.171},{"bmi":27.11,"prs":36.105},{"bmi":27.29,"prs":36.130},{"bmi":27.56,"prs":36.124},{"bmi":27.94,"prs":36.165},{"bmi":28.04,"prs":36.164},{"bmi":28.68,"prs":36.162},{"bmi":28.96,"prs":36.162},{"bmi":29.04,"prs":36.127},{"bmi":29.44,"prs":36.130},{"bmi":28.70,"prs":36.202},{"bmi":29.34,"prs":36.203},{"bmi":30.48,"prs":36.212},{"bmi":31.34,"prs":36.191},{"bmi":31.08,"prs":36.212},{"bmi":32.59,"prs":36.212},{"bmi":31.54,"prs":36.253},{"bmi":32.83,"prs":36.238},{"bmi":33.39,"prs":36.260},{"bmi":34.13,"prs":36.230},{"bmi":34.63,"prs":36.247},{"bmi":35.09,"prs":36.264},{"bmi":36.03,"prs":36.301},{"bmi":36.63,"prs":36.279},{"bmi":36.83,"prs":36.298},{"bmi":37.52,"prs":36.310},{"bmi":38.28,"prs":36.194},{"bmi":38.78,"prs":36.232},{"bmi":38.58,"prs":36.265},{"bmi":38.32,"prs":36.280},{"bmi":39.36,"prs":36.294},{"bmi":38.82,"prs":36.279},{"bmi":39.72,"prs":36.328},{"bmi":40.22,"prs":36.283},{"bmi":35.83,"prs":36.310},{"bmi":35.23,"prs":36.328},{"bmi":34.23,"prs":36.301},{"bmi":33.23,"prs":36.283},{"bmi":32.23,"prs":36.274},{"bmi":31.24,"prs":36.238},{"bmi":30.24,"prs":36.256},{"bmi":29.24,"prs":36.238},{"bmi":28.24,"prs":36.221},{"bmi":27.24,"prs":36.238},{"bmi":26.25,"prs":36.225},{"bmi":25.25,"prs":36.221},{"bmi":24.25,"prs":36.234},{"bmi":23.25,"prs":36.221},{"bmi":22.25,"prs":36.230},{"bmi":21.26,"prs":36.238},{"bmi":20.46,"prs":36.221},{"bmi":19.66,"prs":36.212},{"bmi":18.86,"prs":36.221},{"bmi":18.66,"prs":36.274},{"bmi":17.86,"prs":36.292},{"bmi":17.06,"prs":36.301},{"bmi":16.27,"prs":36.337},{"bmi":15.67,"prs":36.363},{"bmi":15.27,"prs":36.399},{"bmi":15.67,"prs":36.435},{"bmi":15.07,"prs":36.515},{"bmi":15.67,"prs":36.480},{"bmi":15.27,"prs":36.542},{"bmi":15.87,"prs":36.551},{"bmi":15.47,"prs":36.614},{"bmi":16.07,"prs":36.649},{"bmi":15.67,"prs":36.685},{"bmi":16.47,"prs":36.712},{"bmi":16.47,"prs":36.605},{"bmi":16.47,"prs":36.515},{"bmi":16.47,"prs":36.426},{"bmi":17.06,"prs":36.381},{"bmi":17.26,"prs":36.471},{"bmi":17.06,"prs":36.560},{"bmi":17.16,"prs":36.649},{"bmi":17.66,"prs":36.354},{"bmi":18.06,"prs":36.310},{"bmi":19.46,"prs":36.274},{"bmi":20.26,"prs":36.256},{"bmi":21.66,"prs":36.265},{"bmi":22.85,"prs":36.256},{"bmi":24.05,"prs":36.274},{"bmi":25.25,"prs":36.256},{"bmi":26.45,"prs":36.265},{"bmi":27.64,"prs":36.256},{"bmi":28.84,"prs":36.274},{"bmi":30.04,"prs":36.283},{"bmi":31.24,"prs":36.292},{"bmi":32.43,"prs":36.310},{"bmi":33.63,"prs":36.319},{"bmi":34.83,"prs":36.346},{"bmi":36.03,"prs":36.364},{"bmi":37.23,"prs":36.381},{"bmi":38.42,"prs":36.399},{"bmi":39.62,"prs":36.364},{"bmi":39.62,"prs":36.426}
],
"fit": [{"bmi": 9.28, "prs": 36.512}, {"bmi": 71.2, "prs": 36.978}]
},
"encoding": {
"x": {"field": "bmi", "type": "quantitative",
 "scale": {"domain": [9.28, 71.2], "nice": false, "zero": false},
 "axis": {"title": "Measured Body Mass Index", "values": [10, 20, 30, 40, 50, 60, 70], "domain": false, "grid": false,
  "tickSize": 11, "tickColor": "#555", "tickWidth": 1.2,
  "labelFont": "Liberation Sans", "labelFontSize": 22, "labelColor": "#333", "labelBaseline": "alphabetic", "labelPadding": 26, "labelFlush": false,
  "titleFont": "Liberation Sans", "titleFontSize": 23, "titleFontWeight": "normal", "titleColor": "#333", "titleBaseline": "alphabetic", "titleY": 77}},
"y": {"field": "prs", "type": "quantitative",
 "scale": {"domain": [35.928, 37.505], "nice": false, "zero": false},
 "axis": {"title": "Polygenic Risk Score (PRS)", "values": [36, 36.5, 37, 37.5], "format": ".1f", "domain": false, "grid": false,
  "tickSize": 10, "tickColor": "#555", "tickWidth": 1.2,
  "labelFont": "Liberation Sans", "labelFontSize": 22, "labelColor": "#333", "labelAngle": -90, "labelAlign": "center", "labelBaseline": "alphabetic", "labelPadding": 13, "labelFlush": false,
  "titleFont": "Liberation Sans", "titleFontSize": 26, "titleFontWeight": "normal", "titleColor": "#333", "titleAngle": -90, "titleAlign": "center", "titleBaseline": "alphabetic", "titleX": -63, "titleY": 268}}
},
"layer": [
{"data": {"name": "dense"}, "mark": {"type": "point", "shape": "circle", "filled": true, "size": 1600, "color": "#242424", "opacity": 1, "strokeWidth": 0}},
{"data": {"name": "edge"}, "mark": {"type": "point", "shape": "circle", "filled": true, "size": 900, "color": "#242424", "opacity": 1, "strokeWidth": 0}},
{"data": {"name": "core"}, "mark": {"type": "point", "shape": "circle", "filled": true, "size": 1600, "color": "#000000", "opacity": 1, "strokeWidth": 0}},
{"data": {"name": "fuzz"}, "mark": {"type": "point", "shape": "circle", "filled": true, "size": 49, "color": "#222", "opacity": 1, "strokeWidth": 0}},
{"data": {"name": "pts"}, "mark": {"type": "point", "shape": "circle", "filled": false, "size": 24, "stroke": "#222", "strokeWidth": 1.3, "opacity": 1}},
{"data": {"name": "fit"}, "mark": {"type": "line", "color": "#e8262a", "strokeWidth": 1.1, "clip": true}},
{"data": {"values": [{"label": "R² = 9.51%"}]}, "mark": {"type": "text", "font": "Lato", "fontSize": 23, "align": "right", "baseline": "alphabetic", "color": "#000"},
 "encoding": {"x": {"datum": 70.24, "type": "quantitative"}, "y": {"datum": 37.425, "type": "quantitative"}, "text": {"field": "label"}}}
]
}
